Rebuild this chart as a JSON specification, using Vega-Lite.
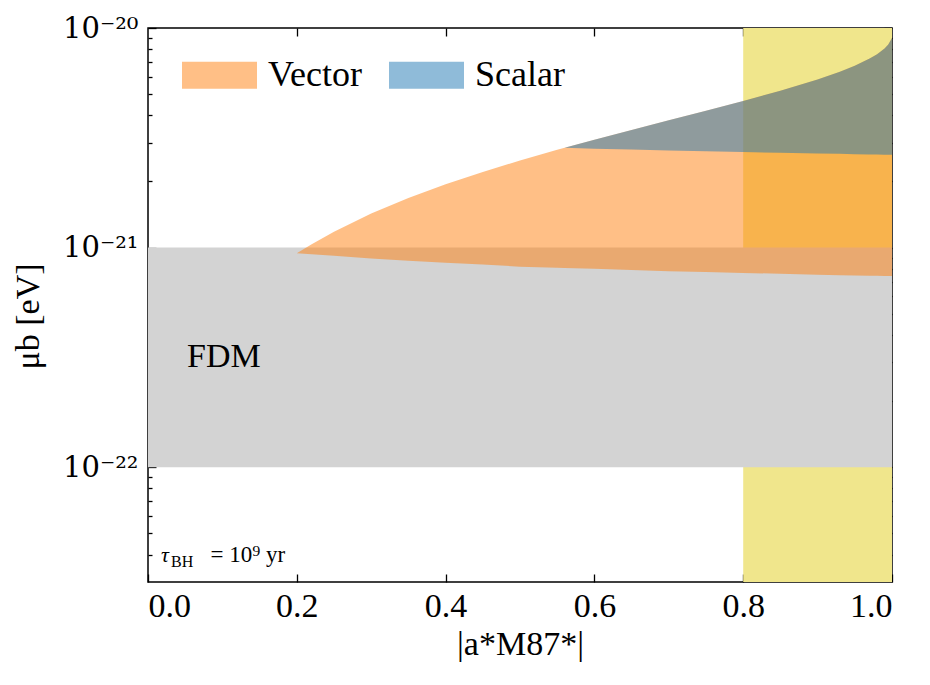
{
  "$schema": "https://vega.github.io/schema/vega-lite/v6.json",
  "width": 744,
  "height": 554,
  "autosize": {"type": "none"},
  "padding": {"left": 148, "top": 28, "right": 38, "bottom": 103},
  "background": "white",
  "config": {
    "view": {"stroke": "black", "strokeWidth": 1.5},
    "axis": {"domain": false, "grid": false, "labelFont": "Liberation Serif", "titleFont": "Liberation Serif", "labelFontSize": 34, "titleFontSize": 34, "titleFontWeight": "normal", "labelColor": "black", "titleColor": "black", "tickColor": "black", "tickWidth": 1.3},
    "text": {"font": "Liberation Serif, DejaVu Serif", "color": "black"}
  },
  "datasets": {
    "vector": [
      {"a": 0.2, "lo": 9.42e-22, "hi": 9.42e-22},
      {"a": 0.22, "lo": 9.32e-22, "hi": 1.036e-21},
      {"a": 0.25, "lo": 9.17e-22, "hi": 1.181e-21},
      {"a": 0.3, "lo": 8.93e-22, "hi": 1.428e-21},
      {"a": 0.35, "lo": 8.72e-22, "hi": 1.681e-21},
      {"a": 0.4, "lo": 8.54e-22, "hi": 1.941e-21},
      {"a": 0.45, "lo": 8.37e-22, "hi": 2.211e-21},
      {"a": 0.5, "lo": 8.19e-22, "hi": 2.492e-21},
      {"a": 0.55, "lo": 8.1e-22, "hi": 2.787e-21},
      {"a": 0.56, "lo": 8.08e-22, "hi": 2.848e-21},
      {"a": 0.6, "lo": 8.0e-22, "hi": 3.1e-21},
      {"a": 0.65, "lo": 7.9e-22, "hi": 3.435e-21},
      {"a": 0.7, "lo": 7.81e-22, "hi": 3.798e-21},
      {"a": 0.75, "lo": 7.74e-22, "hi": 4.198e-21},
      {"a": 0.8, "lo": 7.67e-22, "hi": 4.65e-21},
      {"a": 0.85, "lo": 7.6e-22, "hi": 5.178e-21},
      {"a": 0.9, "lo": 7.53e-22, "hi": 5.829e-21},
      {"a": 0.93, "lo": 7.49e-22, "hi": 6.324e-21},
      {"a": 0.95, "lo": 7.47e-22, "hi": 6.733e-21},
      {"a": 0.97, "lo": 7.45e-22, "hi": 7.257e-21},
      {"a": 0.98, "lo": 7.44e-22, "hi": 7.601e-21},
      {"a": 0.99, "lo": 7.43e-22, "hi": 8.069e-21},
      {"a": 0.995, "lo": 7.42e-22, "hi": 8.413e-21},
      {"a": 1.0, "lo": 7.42e-22, "hi": 9.0e-21}
    ],
    "scalar": [
      {"a": 0.56, "lo": 2.848e-21, "hi": 2.848e-21},
      {"a": 0.6, "lo": 2.818e-21, "hi": 3.1e-21},
      {"a": 0.65, "lo": 2.795e-21, "hi": 3.435e-21},
      {"a": 0.7, "lo": 2.771e-21, "hi": 3.798e-21},
      {"a": 0.75, "lo": 2.746e-21, "hi": 4.198e-21},
      {"a": 0.8, "lo": 2.722e-21, "hi": 4.65e-21},
      {"a": 0.85, "lo": 2.702e-21, "hi": 5.178e-21},
      {"a": 0.9, "lo": 2.683e-21, "hi": 5.829e-21},
      {"a": 0.93, "lo": 2.672e-21, "hi": 6.324e-21},
      {"a": 0.95, "lo": 2.664e-21, "hi": 6.733e-21},
      {"a": 0.97, "lo": 2.656e-21, "hi": 7.257e-21},
      {"a": 0.98, "lo": 2.652e-21, "hi": 7.601e-21},
      {"a": 0.99, "lo": 2.648e-21, "hi": 8.069e-21},
      {"a": 0.995, "lo": 2.646e-21, "hi": 8.413e-21},
      {"a": 1.0, "lo": 2.644e-21, "hi": 9.0e-21}
    ]
  },
  "resolve": {"axis": {"x": "independent", "y": "independent"}},
  "layer": [
    {
      "data": {"values": [{"region": "spin", "a0": 0.8, "a1": 1.0, "mu0": 3e-23, "mu1": 1e-20}]},
      "mark": {"type": "rect", "fill": "#f0e68c", "opacity": 1},
      "encoding": {
        "x": {"field": "a0", "type": "quantitative", "scale": {"domain": [0, 1], "nice": false, "zero": false},
              "axis": {"orient": "bottom", "values": [0, 0.2, 0.4, 0.6, 0.8, 1], "format": ".1f", "tickSize": -8, "labelPadding": 15, "title": "|a*M87*|", "titlePadding": 4}},
        "x2": {"field": "a1"},
        "y": {"field": "mu0", "type": "quantitative", "scale": {"type": "log", "domain": [3e-23, 1e-20], "nice": false},
              "axis": {"orient": "left",
                       "values": [4e-23, 5e-23, 6e-23, 7e-23, 8e-23, 9e-23, 1e-22, 2e-22, 3e-22, 4e-22, 5e-22, 6e-22, 7e-22, 8e-22, 9e-22, 1e-21, 2e-21, 3e-21, 4e-21, 5e-21, 6e-21, 7e-21, 8e-21, 9e-21, 1e-20],
                       "labelExpr": "datum.value === 1e-20 ? '10⁻²⁰' : datum.value === 1e-21 ? '10⁻²¹' : datum.value === 1e-22 ? '10⁻²²' : ''",
                       "labelFont": "DejaVu Serif", "labelFontSize": 29,
                       "tickSize": {"condition": {"test": "datum.value === 1e-20 || datum.value === 1e-21 || datum.value === 1e-22", "value": -8}, "value": -4},
                       "labelPadding": 18,
                       "title": "μb [eV]", "titleX": -120, "titleY": 288, "titleAngle": -90, "titleAlign": "center", "titleBaseline": "middle"}},
        "y2": {"field": "mu1"}
      }
    },
    {
      "data": {"values": [{"region": "FDM", "a0": 0.0, "a1": 1.0, "mu0": 1e-22, "mu1": 1e-21}]},
      "mark": {"type": "rect", "fill": "#d3d3d3", "opacity": 1},
      "encoding": {
        "x": {"field": "a0", "type": "quantitative",
              "axis": {"orient": "top", "values": [0.2, 0.4, 0.6, 0.8], "labels": false, "title": null, "tickSize": -8}},
        "x2": {"field": "a1"},
        "y": {"field": "mu0", "type": "quantitative",
              "axis": {"orient": "right",
                       "values": [4e-23, 5e-23, 6e-23, 7e-23, 8e-23, 9e-23, 1e-22, 2e-22, 3e-22, 4e-22, 5e-22, 6e-22, 7e-22, 8e-22, 9e-22, 1e-21, 2e-21, 3e-21, 4e-21, 5e-21, 6e-21, 7e-21, 8e-21, 9e-21, 1e-20],
                       "labels": false, "title": null,
                       "tickSize": {"condition": {"test": "datum.value === 1e-20 || datum.value === 1e-21 || datum.value === 1e-22", "value": -8}, "value": -4}}},
        "y2": {"field": "mu1"}
      }
    },
    {
      "data": {"name": "vector"},
      "mark": {"type": "area", "opacity": 0.5},
      "encoding": {
        "x": {"field": "a", "type": "quantitative", "axis": null},
        "y": {"field": "hi", "type": "quantitative", "axis": null},
        "y2": {"field": "lo"},
        "color": {"datum": "Vector", "type": "nominal",
                  "scale": {"domain": ["Vector", "Scalar"], "range": ["#ff7f0e", "#1f77b4"]},
                  "legend": {"title": null, "orient": "none", "legendX": 34, "legendY": 9.5, "direction": "horizontal",
                             "symbolType": "M-1,-0.36H1V0.36H-1Z", "symbolSize": 5625, "symbolOpacity": 0.5, "symbolStrokeWidth": 0,
                             "labelFont": "Liberation Serif", "labelFontSize": 36, "labelColor": "black", "labelOffset": 11,
                             "columnPadding": 27, "labelLimit": 0, "padding": 0}}
      }
    },
    {
      "data": {"name": "scalar"},
      "mark": {"type": "area", "opacity": 0.5},
      "encoding": {
        "x": {"field": "a", "type": "quantitative", "axis": null},
        "y": {"field": "hi", "type": "quantitative", "axis": null},
        "y2": {"field": "lo"},
        "color": {"datum": "Scalar", "type": "nominal"}
      }
    },
    {
      "data": {"values": [{"label": "FDM", "a": 0.0524, "mu": 2.86e-22}]},
      "mark": {"type": "text", "align": "left", "baseline": "alphabetic", "fontSize": 34},
      "encoding": {
        "x": {"field": "a", "type": "quantitative", "axis": null},
        "y": {"field": "mu", "type": "quantitative", "axis": null},
        "text": {"field": "label"}
      }
    },
    {
      "data": {"values": [{"label": "τ", "a": 0.0175, "mu": 3.69e-23}]},
      "mark": {"type": "text", "align": "left", "baseline": "alphabetic", "fontSize": 22, "fontStyle": "italic"},
      "encoding": {
        "x": {"field": "a", "type": "quantitative", "axis": null},
        "y": {"field": "mu", "type": "quantitative", "axis": null},
        "text": {"field": "label"}
      }
    },
    {
      "data": {"values": [{"label": "BH", "a": 0.031, "mu": 3.5e-23}]},
      "mark": {"type": "text", "align": "left", "baseline": "alphabetic", "fontSize": 16},
      "encoding": {
        "x": {"field": "a", "type": "quantitative", "axis": null},
        "y": {"field": "mu", "type": "quantitative", "axis": null},
        "text": {"field": "label"}
      }
    },
    {
      "data": {"values": [{"label": "= 10⁹ yr", "a": 0.084, "mu": 3.69e-23}]},
      "mark": {"type": "text", "align": "left", "baseline": "alphabetic", "fontSize": 23},
      "encoding": {
        "x": {"field": "a", "type": "quantitative", "axis": null},
        "y": {"field": "mu", "type": "quantitative", "axis": null},
        "text": {"field": "label"}
      }
    }
  ]
}
